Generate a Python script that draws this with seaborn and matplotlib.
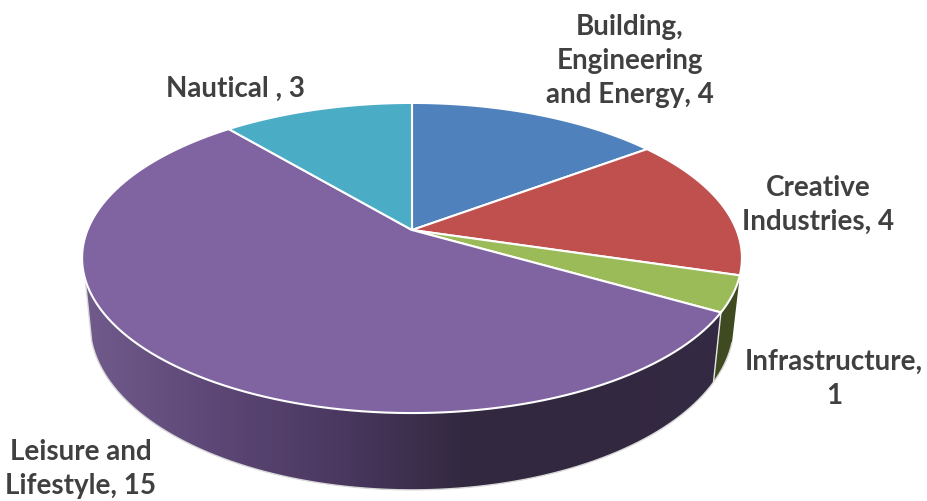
import numpy as np
import matplotlib
matplotlib.use("Agg")
import matplotlib.pyplot as plt
import seaborn as sns

# Data
categories = ["Building, Engineering and Energy", "Creative Industries", "Infrastructure", "Leisure and Lifestyle", "Nautical "]
values = [4, 4, 1, 15, 3]
top_colors = ["#4f81bd", "#c0504d", "#9bbb59", "#8064a2", "#4bacc6"]
label_text = ["Building,\nEngineering\nand Energy, 4", "Creative\nIndustries, 4", "Infrastructure,\n1", "Leisure and\nLifestyle, 15", "Nautical , 3"]
label_x = [630, 818, 834, 81, 235]
label_y = [61, 205, 379, 469, 89]

sns.set_theme(style="white")
plt.rcParams["font.family"] = ["Lato", "DejaVu Sans"]

# Pie geometry in pixels (perspective view of a disc)
CX, CY = 412, 231
A, B, K = 324.5, 150, 0.1806
DEPTH_Y, SCALE_X, SCALE_Y = 64, 0.976, 1.07


def top_rim(theta):
    # theta in degrees, clockwise from 12 o'clock
    t = np.radians(theta)
    u, v = np.sin(t), np.cos(t)
    d = 1 + K * v
    return CX + A * u / d, CY - B * v / d


def bottom_rim(theta):
    x, y = top_rim(theta)
    return CX + (x - CX) * SCALE_X, CY + DEPTH_Y + (y - CY) * SCALE_Y


def wall(start, top_end, bottom_end):
    tx, ty = top_rim(np.linspace(start, top_end, 200))
    bx, by = bottom_rim(np.linspace(start, bottom_end, 200))
    return np.r_[tx, bx[::-1]], np.r_[ty, by[::-1]]


edges = np.cumsum([0] + values) / sum(values) * 360

fig, ax = plt.subplots(figsize=(9.27, 5.02), dpi=100)
fig.subplots_adjust(0, 0, 1, 1)

# Purple side wall: horizontal gradient clipped to the wall shape
ramp = sns.blend_palette(["#705b8c", "#5d4776", "#4a3860", "#32283f", "#32283f", "#352a44"], 256)
wx, wy = wall(edges[3], 262, 254)
clip = ax.fill(wx, wy, color="#4a3860", lw=0, zorder=1)[0]
img = ax.imshow(np.array(ramp)[None, :, :], extent=(85, 725, 502, 0), aspect="auto", zorder=2, interpolation="bilinear")
img.set_clip_path(clip)

# Green side wall
gx, gy = wall(edges[2], edges[3], edges[3])
ax.fill(gx, gy, color="#3f4a20", lw=0, zorder=2)

# Light outline of the wall
bx, by = bottom_rim(np.linspace(edges[2], 254, 200))
lx, ly = top_rim(262)
ax.plot(np.r_[bx, lx], np.r_[by, ly], color="#d9d9d9", lw=1.0, zorder=3)
sx, sy = top_rim(edges[3])
ex, ey = bottom_rim(edges[3])
ax.plot([sx, ex], [sy, ey], color="#e8e8e8", lw=1.0, zorder=3)

# Top face
for i, c in enumerate(top_colors):
    x, y = top_rim(np.linspace(edges[i], edges[i + 1], 120))
    ax.fill(np.r_[CX, x], np.r_[CY, y], facecolor=c, edgecolor="white", lw=1.5, joinstyle="round", zorder=4)

for txt, tx, ty in zip(label_text, label_x, label_y):
    ax.text(tx, ty, txt, ha="center", va="center", fontsize=20, fontweight="bold",
            color="#404040", linespacing=1.4, zorder=5)

ax.set_xlim(0, 927)
ax.set_ylim(502, 0)
ax.axis("off")

fig.savefig("out.png", dpi=100)
